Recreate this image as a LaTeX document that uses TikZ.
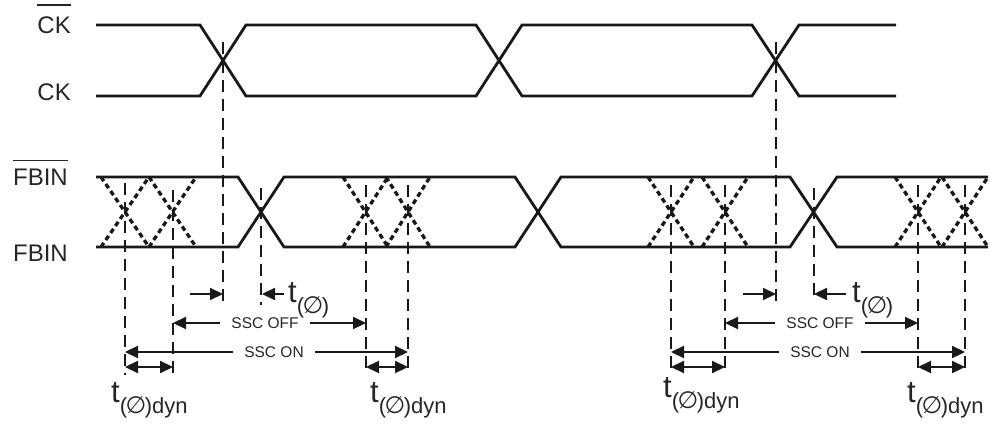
\documentclass[tikz,border=0pt]{standalone}
\usepackage{fontspec}
\setmainfont{Liberation Sans}
\newfontfamily\symfnt{DejaVu Sans}
\usetikzlibrary{arrows.meta}
\newcommand\myphisub{(\kern-1.5pt\raisebox{-0.5pt}{\scalebox{1.08}{\symfnt ∅}}\kern-1.5pt)}
\newcommand\mytphi{{\fontsize{31}{31}\selectfont t}\raisebox{-11pt}{\fontsize{22}{22}\selectfont\myphisub}}
\newcommand\mytdyn{{\fontsize{31}{31}\selectfont t}\raisebox{-11pt}{\fontsize{22}{22}\selectfont\myphisub dyn}}
\begin{document}
\begin{tikzpicture}[x=1pt,y=-1pt,
  wave/.style={line width=2.8pt, line join=miter, black!90},
  ghost/.style={line width=3.3pt, dash pattern=on 5pt off 3.5pt, black!90},
  guide/.style={line width=2.4pt, dash pattern=on 12pt off 7pt, black!90},
  arr/.style={line width=2.2pt, black!90, -{Triangle[length=13pt,width=12pt]}},
  darr/.style={line width=2.2pt, black!90, {Triangle[length=13pt,width=12pt]}-{Triangle[length=13pt,width=12pt]}},
  sig/.style={font=\fontsize{24}{24}\selectfont, inner sep=0pt, anchor=base east, text=black!85},
  ovl/.style={line width=1.5pt, black!85},
  ssc/.style={font=\fontsize{15.5}{15.5}\selectfont, inner xsep=11pt, inner ysep=0pt, text=black!85},
  tlab/.style={inner sep=0pt, anchor=base west, text=black!85},
]
\useasboundingbox (0,0) rectangle (990,425);

% signal labels
\node[sig] (ckb) at (71,34) {CK};
\node[sig] (ck) at (71,101) {CK};
\node[sig] (fbb) at (68,185) {FBIN};
\node[sig] (fb) at (68,261) {FBIN};
\draw[ovl] ([yshift=12pt]ckb.north west) -- ([yshift=12pt]ckb.north east);
\draw[ovl] ([yshift=8pt]fbb.north west) -- ([yshift=8pt]fbb.north east);

% clock waveforms
\draw[wave] (96,25) -- (200,25) -- (246,96) -- (476,96) -- (522,25) -- (752,25) -- (799,96) -- (896,96);
\draw[wave] (96,96) -- (200,96) -- (246,25) -- (476,25) -- (522,96) -- (752,96) -- (799,25) -- (896,25);

% feedback waveforms
\draw[wave] (96,177) -- (238,177) -- (284,247) -- (515,247) -- (561,177) -- (790,177) -- (837,247) -- (988,247);
\draw[wave] (96,247) -- (238,247) -- (284,177) -- (515,177) -- (561,247) -- (790,247) -- (837,177) -- (988,177);

% jitter (ghost) crossings
\foreach \a/\b in {101/149,149/196,343/388,386/430,648/694,702/748,895/941,942/988}{
  \draw[ghost] (\a,177) -- (\b,247);
  \draw[ghost] (\a,247) -- (\b,177);
}

% dashed guide lines
\foreach \x/\ya/\yb in {223/42/303, 776/42/303, 261/188/305, 814/188/300,
  125/183/375, 173/190/375, 366/185/375, 408/185/375,
  671/185/375, 725/185/375, 918/185/375, 965/185/375}{
  \draw[guide] (\x,\ya) -- (\x,\yb);
}

% left group annotations
\draw[arr] (190,294) -- (223,294);
\node[tlab] (tp1) at (288,302) {\mytphi};
\draw[arr] (284,294) -- (262,294);
\node[ssc] (off1) at (265,323) {SSC OFF};
\draw[arr] (off1.west) -- (173,323);
\draw[arr] (off1.east) -- (366,323);
\node[ssc] (on1) at (274,352) {SSC ON};
\draw[arr] (on1.west) -- (125,352);
\draw[arr] (on1.east) -- (408,352);
\draw[darr] (125,367) -- (173,367);
\draw[darr] (366,367) -- (408,367);
\node[tlab] (td1) at (111,402) {\mytdyn};
\node[tlab] (td2) at (370,402) {\mytdyn};

% right group annotations
\draw[arr] (743,294) -- (776,294);
\node[tlab] (tp2) at (852,302) {\mytphi};
\draw[arr] (846,294) -- (814,294);
\node[ssc] (off2) at (820,323) {SSC OFF};
\draw[arr] (off2.west) -- (725,323);
\draw[arr] (off2.east) -- (918,323);
\node[ssc] (on2) at (820,352) {SSC ON};
\draw[arr] (on2.west) -- (671,352);
\draw[arr] (on2.east) -- (965,352);
\draw[darr] (671,367) -- (725,367);
\draw[darr] (918,367) -- (965,367);
\node[tlab] (td3) at (663,397) {\mytdyn};
\node[tlab] (td4) at (907,402) {\mytdyn};
\end{tikzpicture}
\end{document}
